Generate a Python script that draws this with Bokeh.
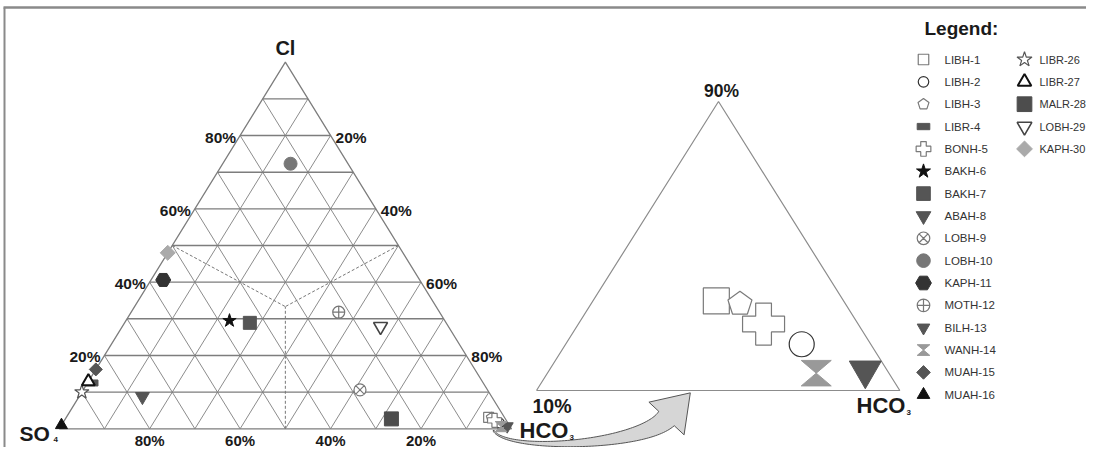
import numpy as np
from bokeh.plotting import figure
from bokeh.models import Range1d
from bokeh.core.properties import value
from bokeh.embed import file_html
from bokeh.resources import INLINE

# ---------------- data: ionic composition in % ----------------
samples = ["LIBH-1", "LIBH-2", "LIBH-3", "LIBR-4", "BONH-5", "BAKH-6", "BAKH-7",
           "ABAH-8", "LOBH-9", "LOBH-10", "KAPH-11", "MOTH-12", "BILH-13", "WANH-14",
           "MUAH-15", "MUAH-16", "LIBR-26", "LIBR-27", "MALR-28", "LOBH-29", "KAPH-30"]
so4 = [3.5, 1.9, 2.9, 86.5, 2.6, 47.6, 43.4, 77.2, 28.2, 12.7, 56.7, 22.3, 0.6, 2.0,
       83.8, 99.0, 90.0, 87.1, 25.2, 15.0, 52.0]
cl = [3.1, 1.6, 3.0, 12.5, 2.3, 29.5, 28.9, 8.8, 10.6, 72.3, 40.6, 31.8, 0.7, 0.6,
      16.2, 1.0, 10.0, 12.9, 2.7, 27.9, 48.0]
hco3 = [93.4, 96.5, 94.1, 1.0, 95.1, 22.9, 27.7, 14.0, 61.2, 15.0, 2.7, 45.9, 98.7, 97.4,
        0.0, 0.0, 0.0, 0.0, 72.1, 57.1, 0.0]

legend_col1 = samples[:16]
legend_col2 = samples[16:]
side_ticks = [20, 40, 60, 80]
grid_steps = [10, 20, 30, 40, 50, 60, 70, 80, 90]

# ---------------- styles ----------------
FONT = value("Liberation Sans")
STY = {  # marker, fill, line, line width, main size, inset size
    "LIBH-1": ("square", "white", "#7a7a7a", 1.2, 10, 26),
    "LIBH-2": ("circle", "white", "#333333", 1.2, 10, 25),
    "LIBH-3": ("pentagon", "white", "#7a7a7a", 1.2, 10, 23),
    "LIBR-4": ("flag", "#555555", "#555555", 1, 12, 24),
    "BONH-5": ("plus", "white", "#7a7a7a", 1.2, 14, 42),
    "BAKH-6": ("star", "#111111", "#111111", 1, 14, 28),
    "BAKH-7": ("square", "#555555", "#555555", 1, 13, 26),
    "ABAH-8": ("inverted_triangle", "#555555", "#555555", 1, 14, 28),
    "LOBH-9": ("circle_x", "white", "#777777", 1.2, 12, 24),
    "LOBH-10": ("circle", "#777777", "#777777", 1, 13, 26),
    "KAPH-11": ("hex", "#333333", "#333333", 1, 15, 30),
    "MOTH-12": ("circle_cross", "white", "#777777", 1.2, 12, 24),
    "BILH-13": ("inverted_triangle", "#555555", "#555555", 1, 12, 32),
    "WANH-14": ("hourglass", "#999999", "#999999", 1, 12, 30),
    "MUAH-15": ("rdiamond", "#555555", "#555555", 1, 13, 26),
    "MUAH-16": ("triangle", "#111111", "#111111", 1, 12, 24),
    "LIBR-26": ("star", "white", "#555555", 1.2, 15, 30),
    "LIBR-27": ("triangle", "white", "#111111", 2.0, 13, 26),
    "MALR-28": ("square", "#4d4d4d", "#4d4d4d", 1, 14, 28),
    "LOBH-29": ("inverted_triangle", "white", "#444444", 1.6, 14, 28),
    "KAPH-30": ("rdiamond", "#aaaaaa", "#aaaaaa", 1, 15, 30),
}

# geometry (canvas-like data units, y downward)
ML, MR, MT = (58.7, 428.3), (511.0, 428.3), (284.9, 61.7)
IL, IR, IT = (536.0, 390.0), (899.3, 390.0), (718.0, 101.0)


def tern_main(s, c, h):
    s, c, h = np.asarray(s, float), np.asarray(c, float), np.asarray(h, float)
    x = ML[0] + (h + c / 2) / 100 * (MR[0] - ML[0])
    y = ML[1] - c / 100 * (ML[1] - MT[1])
    return x, y


def tern_inset(s, c, h):
    c2 = np.asarray(c, float) / 10
    h2 = (np.asarray(h, float) - 90) / 10
    x = IL[0] + (h2 + c2 / 2) * (IR[0] - IL[0])
    y = IL[1] - c2 * (IL[1] - IT[1])
    return x, y


p = figure(width=1086, height=447, x_range=Range1d(0, 1086), y_range=Range1d(447, 0),
           output_backend="svg", toolbar_location=None, min_border=0,
           x_axis_type=None, y_axis_type=None)
p.grid.visible = False
p.outline_line_color = None
p.background_fill_color = "white"
p.border_fill_color = "white"

# page frame (top and left)
p.line([3, 1086], [7, 7], line_color="#8a8a8a", line_width=2.5)
p.line([4, 4], [7, 447], line_color="#8a8a8a", line_width=2)

# ---------------- main triangle grid ----------------
hx, hy, dx, dy = [], [], [], []
for g in grid_steps:
    a = tern_main([100 - g, 0], [g, g], [0, 100 - g])
    hx.append(list(a[0])); hy.append(list(a[1]))
    b = tern_main([100 - g, 0], [0, 100 - g], [g, g])
    dx.append(list(b[0])); dy.append(list(b[1]))
    c = tern_main([g, g], [0, 100 - g], [100 - g, 0])
    dx.append(list(c[0])); dy.append(list(c[1]))
p.multi_line(dx, dy, line_color="#8c8c8c", line_width=1)
p.multi_line(hx, hy, line_color="#7d7d7d", line_width=1.4)
ox, oy = tern_main([100, 0, 0, 100], [0, 100, 0, 0], [0, 0, 100, 0])
p.line(ox, oy, line_color="#7d7d7d", line_width=1.3)

# dashed division lines (edge midpoints to centroid)
cx, cy = tern_main([100 / 3], [100 / 3], [100 / 3])
for s_, c_, h_ in [(50, 50, 0), (0, 50, 50), (50, 0, 50)]:
    ex, ey = tern_main([s_], [c_], [h_])
    p.line([ex[0], cx[0]], [ey[0], cy[0]], line_color="#777777", line_width=1,
           line_dash="3 2")

# ---------------- inset triangle ----------------
p.line([IL[0], IR[0], IT[0], IL[0]], [IL[1], IR[1], IT[1], IL[1]],
       line_color="#8c8c8c", line_width=1.2)

# ---------------- curved arrow ----------------
t = np.linspace(0, 1, 80)
P0, P1, P2, P3 = map(np.array, [(493, 430), (505, 452), (640, 446), (666, 418)])
B = ((1 - t) ** 3)[:, None] * P0 + (3 * (1 - t) ** 2 * t)[:, None] * P1 + \
    (3 * (1 - t) * t ** 2)[:, None] * P2 + (t ** 3)[:, None] * P3
D = (3 * (1 - t) ** 2)[:, None] * (P1 - P0) + (6 * (1 - t) * t)[:, None] * (P2 - P1) + \
    (3 * t ** 2)[:, None] * (P3 - P2)
D = D / np.linalg.norm(D, axis=1)[:, None]
N = np.stack([-D[:, 1], D[:, 0]], axis=1)
w = 1.2 + 20 * t ** 1.8
left = B + N * (w / 2)[:, None]
right = B - N * (w / 2)[:, None]
d_end, n_end = D[-1], N[-1]
tip = P3 + d_end * 35
hl = P3 + n_end * 24
hr = P3 - n_end * 24
poly = np.vstack([left, hl[None], tip[None], hr[None], right[::-1]])
p.patch(poly[:, 0], poly[:, 1], fill_color="#d6d6d6", line_color="#555555", line_width=1)


# ---------------- markers ----------------
def draw(xs, ys, names, scale=1.0, inset=False):
    for x, y, n in zip(xs, ys, names):
        m, fc, lc, lw, sz, isz = STY[n]
        size = isz if inset else sz * scale
        if m == "pentagon":
            r = size / 2 * 1.1
            ang = np.deg2rad(-90 + 72 * np.arange(5))
            p.patch(x + r * np.cos(ang), y + r * np.sin(ang), fill_color=fc,
                    line_color=lc, line_width=lw)
        elif m == "hourglass":
            hw, hh = size / 2, size / 2 * 0.85
            p.patch([x - hw, x + hw, x, x + hw, x - hw, x],
                    [y - hh, y - hh, y, y + hh, y + hh, y],
                    fill_color=fc, line_color=lc, line_width=lw)
        elif m == "flag":
            p.rect([x], [y], width=size, height=size * 0.5, width_units="screen",
                   height_units="screen", fill_color=fc, line_color=lc)
        elif m == "rdiamond":
            p.scatter([x], [y], marker="square", angle=np.pi / 4, size=size / 1.414,
                      fill_color=fc, line_color=lc, line_width=lw)
        else:
            p.scatter([x], [y], marker=m, size=size, fill_color=fc, line_color=lc,
                      line_width=lw)


mx, my = tern_main(so4, cl, hco3)
draw(mx, my, samples)

ins = [i for i, h in enumerate(hco3) if h >= 90]
ix, iy = tern_inset([so4[i] for i in ins], [cl[i] for i in ins], [hco3[i] for i in ins])
draw(ix, iy, [samples[i] for i in ins], inset=True)

# ---------------- labels ----------------
def txt(x, y, s, size, align="center", bold=True, color="#1a1a1a", baseline="middle"):
    p.text([x], [y], text=[s], text_font=FONT, text_font_size=f"{size}px",
           text_font_style="bold" if bold else "normal", text_align=align,
           text_baseline=baseline, text_color=color)


for v in side_ticks:
    lx, ly = tern_main([100 - v], [v], [0])
    txt(lx[0] - 4, ly[0] + 1.5, f"{v}%", 15.5, align="right")
    rx, ry = tern_main([0], [v], [100 - v])
    txt(rx[0] + 5, ry[0] + 1.5, f"{100 - v}%", 15.5, align="left")
    bx, by = tern_main([v], [0], [100 - v])
    txt(bx[0], 439.5, f"{v}%", 15)

txt(MT[0], 47, "Cl", 20)
txt(19, 433, "SO", 21, align="left")
txt(53, 439, "4", 8, align="left")
txt(519, 430, "HCO", 22, align="left")
txt(569, 437, "3", 8, align="left")
txt(IL[0] - 4, 405, "10%", 19.5, align="left")
txt(IT[0] + 3, 90, "90%", 17.5)
txt(856, 405, "HCO", 22, align="left")
txt(906, 412, "3", 8, align="left")

# ---------------- legend ----------------
txt(924, 28, "Legend:", 19, align="left")
row0, drow = 59, 22.35
for k, n in enumerate(legend_col1):
    yy = row0 + k * drow
    draw([923], [yy], [n], 1.05)
    txt(944, yy, n, 11.5, align="left", bold=False, color="#333333")
for k, n in enumerate(legend_col2):
    yy = row0 + k * drow
    draw([1024], [yy], [n], 1.05)
    txt(1039, yy, n, 11, align="left", bold=False, color="#333333")

open("out.html", "w").write(file_html(p, INLINE))
